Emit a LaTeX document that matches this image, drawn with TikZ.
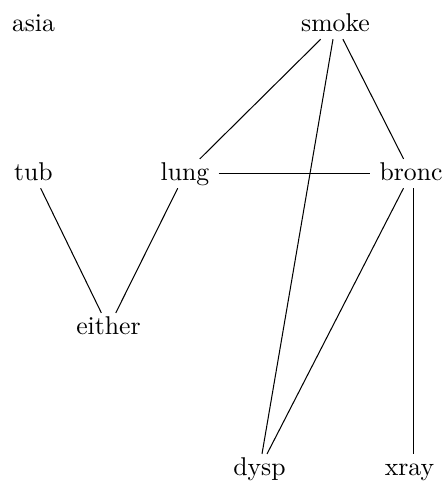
\documentclass[tikz,border=0pt]{standalone}
\begin{document}
\begin{tikzpicture}[x=0.389pt,y=-0.389pt,
  var/.style={anchor=base,inner xsep=3.4pt,inner ysep=1pt,text height=7pt,text depth=2pt},
  edge/.style={draw=black,line width=0.4pt}]
\useasboundingbox (0,0) rectangle (447,491);
\node[var] (asia)   at (33.5,31) {asia};
\node[var] (smoke)  at (335.5,31) {smoke};
\node[var] (tub)    at (33.5,180) {tub};
\node[var] (lung)   at (185,180) {lung};
\node[var] (bronc)  at (411,180) {bronc};
\node[var] (either) at (108.5,334) {either};
\node[var] (dysp)   at (259.5,475) {dysp};
\node[var] (xray)   at (409.5,475) {xray};
\draw[edge] (smoke) -- (lung);
\draw[edge] (smoke) -- (bronc);
\draw[edge] (smoke) -- (dysp);
\draw[edge] (lung) -- (bronc);
\draw[edge] (tub) -- (either);
\draw[edge] (lung) -- (either);
\draw[edge] (bronc) -- (dysp);
\coordinate (bx) at ([xshift=2.5*0.389pt]bronc.south);
\draw[edge] (bx) -- (bx |- xray.north);
\end{tikzpicture}
\end{document}
